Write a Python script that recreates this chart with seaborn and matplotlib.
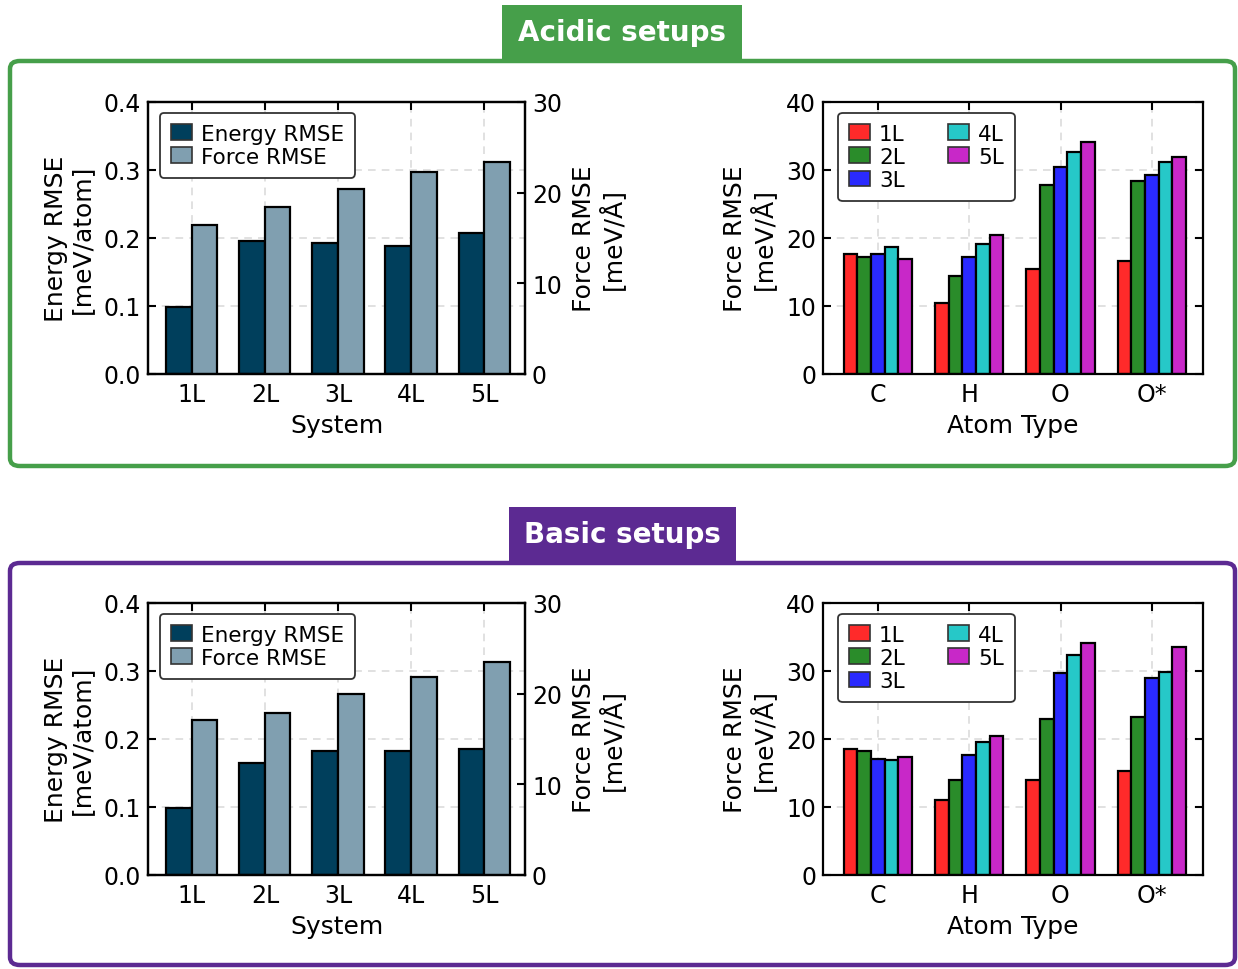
import numpy as np
import pandas as pd
import matplotlib
matplotlib.use("Agg")
import matplotlib.pyplot as plt
import seaborn as sns
from matplotlib.patches import FancyBboxPatch, Rectangle

# ---------------- data ----------------
systems = ["1L", "2L", "3L", "4L", "5L"]
atom_types = ["C", "H", "O", "O*"]

acid_energy = [0.099, 0.195, 0.192, 0.188, 0.208]
acid_force = [16.4, 18.4, 20.4, 22.3, 23.4]
basic_energy = [0.099, 0.165, 0.182, 0.182, 0.186]
basic_force = [17.1, 17.9, 20.0, 21.8, 23.5]

# per-atom force RMSE, one list per layer count; entries follow atom_types (C, H, O, O*)
acid_atom_1L = [17.7, 10.4, 15.4, 16.6]
acid_atom_2L = [17.2, 14.4, 27.8, 28.4]
acid_atom_3L = [17.7, 17.2, 30.4, 29.2]
acid_atom_4L = [18.7, 19.1, 32.6, 31.2]
acid_atom_5L = [16.9, 20.5, 34.1, 31.9]

basic_atom_1L = [18.6, 11.0, 14.0, 15.3]
basic_atom_2L = [18.2, 13.9, 22.9, 23.2]
basic_atom_3L = [17.0, 17.6, 29.7, 29.0]
basic_atom_4L = [16.9, 19.5, 32.3, 29.8]
basic_atom_5L = [17.4, 20.5, 34.1, 33.6]

metrics = ["Energy RMSE", "Force RMSE"]
# ---------------------------------------

W, H = 1238, 970
sns.set_theme(style="ticks")
plt.rcParams["font.family"] = ["DejaVu Sans"]
plt.rcParams.update({
    "axes.linewidth": 1.6,
    "xtick.direction": "in", "ytick.direction": "in",
    "xtick.major.size": 6, "ytick.major.size": 6,
    "xtick.major.width": 1.5, "ytick.major.width": 1.5,
    "xtick.major.pad": 6, "ytick.major.pad": 5,
    "xtick.top": True, "ytick.right": True,
    "xtick.labelsize": 17, "ytick.labelsize": 17,
    "axes.labelsize": 18,
    "axes.edgecolor": "black",
    "axes.labelcolor": "black",
    "text.color": "black",
    "xtick.color": "black", "ytick.color": "black",
    "xtick.labelcolor": "black", "ytick.labelcolor": "black",
})

fig = plt.figure(figsize=(W / 100, H / 100), dpi=100)

def fx(px):
    return px / W

def fy(py):
    return 1 - py / H

energy_colors = ["#003f5c", "#809fb0"]
layer_colors = ["#ff2a2a", "#2a8c2a", "#2a2aff", "#26c8c8", "#c828c8"]


def grid(ax):
    ax.grid(True, linestyle=(0, (5, 4)), color="#d9d9d9", linewidth=1.1)
    ax.set_axisbelow(True)


def style_legend(leg):
    leg.get_frame().set_edgecolor("#333333")
    leg.get_frame().set_linewidth(1.3)
    leg.get_frame().set_alpha(1)
    for h in leg.legend_handles:
        h.set_edgecolor("#333333")
        h.set_linewidth(1.2)


def left_panel(top_px, energy, force):
    ax = fig.add_axes([fx(148), fy(top_px + 272), fx(525) - fx(148), 272 / H])
    df = pd.DataFrame({
        "System": systems * 2,
        "metric": [metrics[0]] * 5 + [metrics[1]] * 5,
        "energy": list(energy) + [np.nan] * 5,
        "force": [np.nan] * 5 + list(force),
    })
    sns.barplot(data=df, x="System", y="energy", hue="metric", hue_order=metrics,
                palette=energy_colors, saturation=1, width=0.7, errorbar=None,
                edgecolor="black", linewidth=1.6, ax=ax)
    ax2 = ax.twinx()
    sns.barplot(data=df, x="System", y="force", hue="metric", hue_order=metrics,
                palette=energy_colors, saturation=1, width=0.7, errorbar=None,
                edgecolor="black", linewidth=1.6, ax=ax2)
    handles, labels = ax.get_legend_handles_labels()
    for a in (ax, ax2):
        if a.get_legend() is not None:
            a.get_legend().remove()
    ax.set_ylim(0, 0.4)
    ax.set_yticks([0.0, 0.1, 0.2, 0.3, 0.4])
    ax.set_yticklabels([f"{v:.1f}" for v in [0.0, 0.1, 0.2, 0.3, 0.4]])
    ax2.set_ylim(0, 30)
    ax2.set_yticks([0, 10, 20, 30])
    ax.set_xlim(-0.6, 4.56)
    ax.set_xlabel("System", labelpad=5)
    ax.set_ylabel("Energy RMSE\n[meV/atom]", linespacing=1.1, labelpad=7)
    ax2.set_ylabel("Force RMSE\n[meV/Å]", linespacing=1.1, labelpad=7)
    ax.tick_params(axis="y", right=False)
    ax2.tick_params(axis="y", direction="in", length=6, width=1.5, labelsize=17,
                    pad=5, colors="black")
    grid(ax)
    for s in ax2.spines.values():
        s.set_linewidth(1.6)
    leg = ax2.legend(handles[:2], labels[:2], loc="upper left", fontsize=15.5,
                     frameon=True, fancybox=True, handlelength=1.0, handleheight=0.75,
                     handletextpad=0.4, borderpad=0.5, labelspacing=0.15,
                     borderaxespad=0, bbox_to_anchor=(0.032, 0.96))
    style_legend(leg)


def right_panel(top_px, rows):
    ax = fig.add_axes([fx(823), fy(top_px + 272), fx(1203) - fx(823), 272 / H])
    df = pd.DataFrame({
        "Atom Type": atom_types * 5,
        "layer": [l for l in systems for _ in atom_types],
        "force": [v for r in rows for v in r],
    })
    sns.barplot(data=df, x="Atom Type", y="force", hue="layer", hue_order=systems,
                palette=layer_colors, saturation=1, width=0.75, errorbar=None,
                edgecolor="black", linewidth=1.6, ax=ax)
    ax.set_ylim(0, 40)
    ax.set_yticks([0, 10, 20, 30, 40])
    ax.set_xlim(-0.6, 3.56)
    ax.set_xlabel("Atom Type", labelpad=5)
    ax.set_ylabel("Force RMSE\n[meV/Å]", linespacing=1.1, labelpad=7)
    grid(ax)
    handles, labels = ax.get_legend_handles_labels()
    ax.get_legend().remove()
    leg = ax.legend(handles, labels, loc="upper left", ncol=2, fontsize=15.5,
                    frameon=True, fancybox=True, handlelength=1.0, handleheight=0.75,
                    handletextpad=0.4, borderpad=0.5, labelspacing=0.15,
                    columnspacing=2.0, borderaxespad=0, bbox_to_anchor=(0.04, 0.96))
    style_legend(leg)


def frame(top_px, bot_px, color, title, tx0, tx1):
    box = FancyBboxPatch((fx(10), fy(bot_px)), fx(1235) - fx(10), (bot_px - top_px) / H,
                         boxstyle="round,pad=0,rounding_size=0.008",
                         transform=fig.transFigure, facecolor="none",
                         edgecolor=color, linewidth=3.2, zorder=0)
    fig.patches.append(box)
    rect = Rectangle((fx(tx0), fy(top_px - 2)), fx(tx1) - fx(tx0), 54 / H,
                     transform=fig.transFigure, facecolor=color, edgecolor="none", zorder=1)
    fig.patches.append(rect)
    fig.text((fx(tx0) + fx(tx1)) / 2, fy(top_px - 2) + 27 / H, title,
             ha="center", va="center", color="white", fontsize=20, fontweight="bold")


green = "#469f4a"
purple = "#5c2a92"
frame(62, 467, green, "Acidic setups", 502, 742)
frame(564, 966, purple, "Basic setups", 509, 736)

left_panel(103, acid_energy, acid_force)
right_panel(103, [acid_atom_1L, acid_atom_2L, acid_atom_3L, acid_atom_4L, acid_atom_5L])
left_panel(604, basic_energy, basic_force)
right_panel(604, [basic_atom_1L, basic_atom_2L, basic_atom_3L, basic_atom_4L, basic_atom_5L])

fig.savefig("out.png", dpi=100)
